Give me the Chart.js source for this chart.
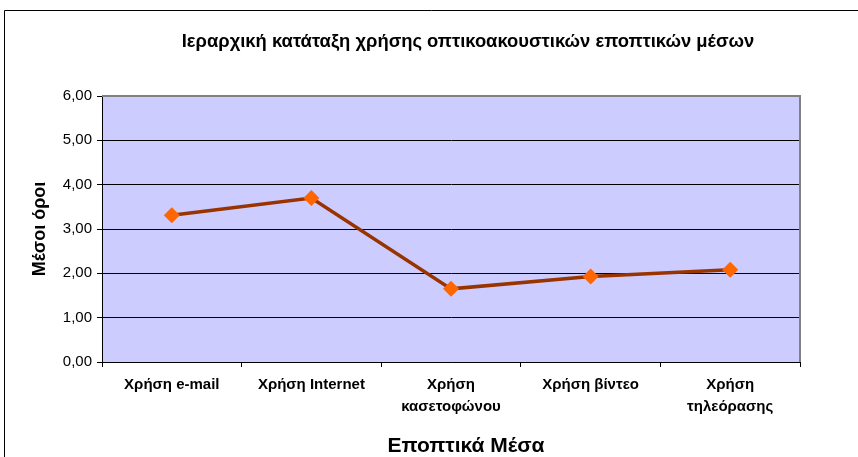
<!DOCTYPE html>
<html>
<head>
<meta charset="utf-8">
<script src="https://cdn.jsdelivr.net/npm/chart.js@4/dist/chart.umd.min.js"></script>
<style>
  html, body { margin: 0; padding: 0; background: #fff; }
  #wrap { width: 858px; height: 457px; position: relative; }
</style>
</head>
<body>
<div id="wrap"><canvas id="chart" width="858" height="457"></canvas></div>
<script>
// Chart data
const categories = [
    ['Χρήση e-mail'],
    ['Χρήση Internet'],
    ['Χρήση', 'κασετοφώνου'],
    ['Χρήση βίντεο'],
    ['Χρήση', 'τηλεόρασης']
];
const meanValues = [3.31, 3.70, 1.65, 1.93, 2.08];
const yTicks = [0, 1, 2, 3, 4, 5, 6];

const chartTitle = 'Ιεραρχική κατάταξη χρήσης οπτικοακουστικών εποπτικών μέσων';
const xTitle = 'Εποπτικά Μέσα';
const yTitle = 'Μέσοι όροι';

const FONT = '"Liberation Sans", Arial, sans-serif';

// Frame, plot background and the free-standing titles
const excelLook = {
    id: 'excelLook',
    beforeDraw(chart) {
        const ctx = chart.ctx;
        const a = chart.chartArea;
        ctx.save();
        // outer frame
        ctx.strokeStyle = '#000';
        ctx.lineWidth = 1;
        ctx.beginPath();
        ctx.moveTo(4.5, 457);
        ctx.lineTo(4.5, 10.5);
        ctx.lineTo(858, 10.5);
        ctx.stroke();
        // plot area
        ctx.fillStyle = '#CCCCFF';
        ctx.fillRect(a.left, a.top, a.right - a.left, a.bottom - a.top);
        ctx.restore();
    },
    afterDraw(chart) {
        const ctx = chart.ctx;
        const a = chart.chartArea;
        ctx.save();
        // grey border on top and right of plot area
        ctx.strokeStyle = '#808080';
        ctx.lineWidth = 2;
        ctx.beginPath();
        ctx.moveTo(a.left, a.top);
        ctx.lineTo(a.right, a.top);
        ctx.lineTo(a.right, a.bottom);
        ctx.stroke();
        // titles
        ctx.fillStyle = '#000';
        ctx.textAlign = 'center';
        ctx.textBaseline = 'middle';
        ctx.font = 'bold 18.4px ' + FONT;
        ctx.fillText(chartTitle, 468, 42);
        ctx.font = 'bold 21px ' + FONT;
        ctx.fillText(xTitle, 466, 446);
        ctx.restore();
    }
};

new Chart(document.getElementById('chart').getContext('2d'), {
    type: 'line',
    data: {
        labels: categories,
        datasets: [{
            data: meanValues,
            borderColor: '#993300',
            borderWidth: 3.5,
            backgroundColor: '#FF6600',
            pointStyle: 'rectRot',
            pointRadius: 8,
            pointBorderWidth: 0,
            pointBackgroundColor: '#FF6600',
            tension: 0,
            fill: false
        }]
    },
    options: {
        responsive: false,
        animation: false,
        layout: { padding: { top: 96, right: 58, left: 0, bottom: 0 } },
        plugins: {
            legend: { display: false },
            tooltip: { enabled: false }
        },
        scales: {
            x: {
                offset: true,
                afterFit(scale) { scale.height = 95; },
                grid: {
                    offset: true,
                    drawOnChartArea: false,
                    drawTicks: true,
                    tickLength: 5,
                    tickColor: '#000'
                },
                border: { color: '#000', width: 1 },
                ticks: {
                    color: '#000',
                    padding: 7,
                    maxRotation: 0,
                    autoSkip: false,
                    font: { family: FONT, size: 15, weight: 'bold', lineHeight: 1.47 }
                }
            },
            y: {
                min: 0,
                max: 6,
                afterFit(scale) { scale.width = 102; },
                afterBuildTicks(scale) {
                    scale.ticks = yTicks.map(v => ({ value: v }));
                },
                grid: {
                    color: '#000',
                    lineWidth: 1,
                    drawTicks: true,
                    tickLength: 5,
                    tickColor: '#000'
                },
                border: { color: '#000', width: 1 },
                ticks: {
                    color: '#000',
                    padding: 5,
                    font: { family: FONT, size: 15 },
                    callback: v => v.toFixed(2).replace('.', ',')
                },
                title: {
                    display: true,
                    text: yTitle,
                    color: '#000',
                    padding: { top: 29, bottom: 0 },
                    font: { family: FONT, size: 18, weight: 'bold' }
                }
            }
        }
    },
    plugins: [excelLook]
});
</script>
</body>
</html>
